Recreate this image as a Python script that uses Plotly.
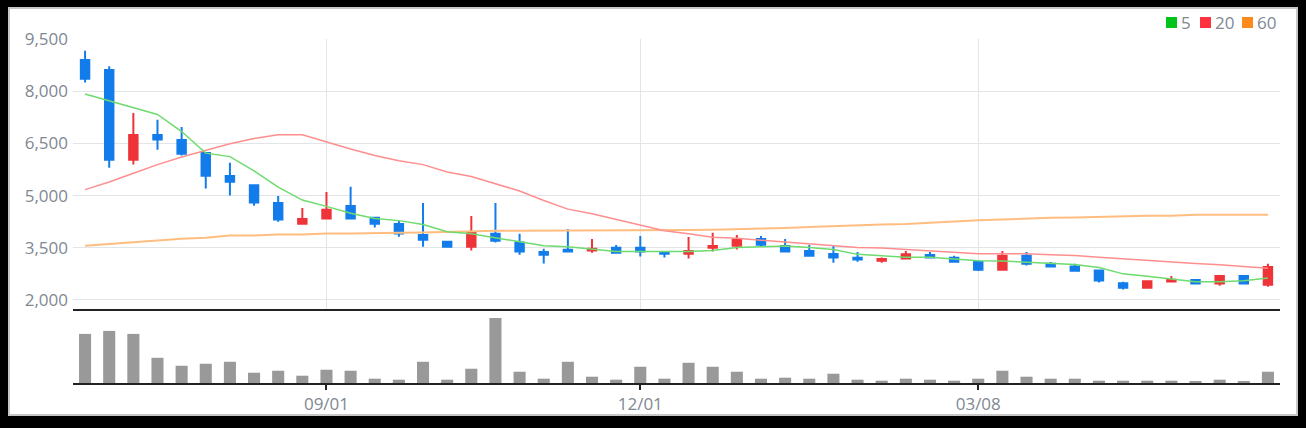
import pandas as pd
import plotly.graph_objects as go
from plotly.subplots import make_subplots

# weekly candles, one per friday
dates = pd.date_range("2023-06-23", periods=50, freq="7D")

opens = [8900, 8610, 6030, 6740, 6600, 6220, 5560, 5300, 4790, 4190,
         4340, 4700, 4360, 4180, 3870, 3670, 3530, 3900, 3650, 3380,
         3440, 3420, 3500, 3500, 3380, 3330, 3500, 3560, 3750, 3550,
         3410, 3320, 3210, 3130, 3190, 3290, 3210, 3090, 2870, 3270,
         3040, 2960, 2850, 2480, 2350, 2530, 2570, 2470, 2690, 2440]
highs = [9160, 8720, 7370, 7180, 6970, 6220, 5940, 5300, 4990, 4640,
         5100, 5250, 4390, 4280, 4790, 3680, 4410, 4790, 3900, 3470,
         4040, 3750, 3580, 3840, 3410, 3810, 3930, 3870, 3840, 3750,
         3580, 3550, 3380, 3220, 3410, 3380, 3270, 3150, 3410, 3380,
         3090, 3040, 2850, 2520, 2540, 2690, 2600, 2720, 2690, 3040]
lows = [8250, 5800, 5890, 6320, 6150, 5200, 5000, 4710, 4250, 4190,
        4340, 4310, 4080, 3820, 3530, 3500, 3420, 3650, 3300, 3050,
        3390, 3360, 3360, 3250, 3220, 3190, 3390, 3450, 3530, 3390,
        3270, 3070, 3100, 3070, 3190, 3220, 3070, 2830, 2870, 2990,
        2930, 2840, 2500, 2300, 2350, 2500, 2470, 2410, 2470, 2380]
closes = [8360, 6030, 6740, 6610, 6200, 5570, 5400, 4800, 4310, 4330,
          4590, 4340, 4190, 3910, 3730, 3530, 3930, 3700, 3390, 3300,
          3390, 3470, 3360, 3390, 3330, 3410, 3550, 3720, 3590, 3390,
          3270, 3220, 3160, 3180, 3310, 3220, 3100, 2870, 3270, 3040,
          2960, 2840, 2560, 2350, 2540, 2580, 2470, 2690, 2470, 2950]

ma5 = [7920, 7720, 7530, 7330, 6840, 6220, 6120, 5710, 5240, 4870,
       4690, 4490, 4340, 4280, 4170, 3960, 3900, 3790, 3680, 3560,
       3530, 3460, 3390, 3390, 3390, 3390, 3420, 3510, 3530, 3550,
       3510, 3450, 3310, 3260, 3230, 3230, 3180, 3130, 3120, 3080,
       3040, 3020, 2930, 2750, 2680, 2600, 2520, 2520, 2550, 2630]
ma20 = [5170, 5390, 5640, 5890, 6110, 6290, 6490, 6640, 6750, 6750,
        6540, 6340, 6150, 6000, 5890, 5680, 5550, 5350, 5130, 4860,
        4610, 4480, 4320, 4150, 3990, 3900, 3800, 3770, 3720, 3670,
        3600, 3550, 3510, 3490, 3450, 3420, 3380, 3330, 3330, 3330,
        3300, 3280, 3230, 3180, 3140, 3100, 3050, 3010, 2950, 2910]
ma60 = [3560, 3610, 3670, 3730, 3760, 3790, 3850, 3850, 3880, 3880,
        3910, 3910, 3930, 3930, 3940, 3960, 3970, 3990, 3990, 3990,
        3990, 3990, 3990, 3990, 3990, 4010, 4020, 4030, 4050, 4070,
        4100, 4130, 4140, 4170, 4180, 4220, 4250, 4290, 4310, 4340,
        4360, 4370, 4390, 4400, 4420, 4420, 4450, 4450, 4450, 4450]

volumes = [148000, 157000, 148000, 76000, 52000, 58000, 64000, 31000, 37000, 22000,
           40000, 37000, 13000, 10000, 64000, 10000, 43000, 196000, 34000, 13000,
           64000, 19000, 10000, 49000, 13000, 61000, 49000, 34000, 13000, 16000,
           13000, 28000, 10000, 7000, 13000, 10000, 7000, 13000, 37000, 19000,
           13000, 13000, 7000, 7000, 7000, 7000, 4000, 10000, 4000, 34000]

tick_dates = ["2023-09-01", "2023-12-01", "2024-03-08"]
tick_labels = ["09/01", "12/01", "03/08"]
price_ticks = [2000, 3500, 5000, 6500, 8000, 9500]
legend_names = ["5", "20", "60"]
legend_colors = ["#00c41a", "#ff3340", "#ff8a1c"]

UP = "#ee3438"
DOWN = "#127cea"
GRAY_TXT = "#808892"
FONT = "Open Sans"

# page geometry (px) -> paper coords
W, H = 1306, 428
L, R, T, B = 73, 26, 39, 45
def px(x):
    return (x - L) / (W - L - R)
def py(y):
    return (H - B - y) / (H - T - B)

fig = make_subplots(rows=2, cols=1, shared_xaxes=True, vertical_spacing=0,
                    row_heights=[1 - py(309), py(309)])

fig.add_trace(go.Candlestick(x=dates, open=opens, high=highs, low=lows, close=closes,
                             increasing=dict(line=dict(color=UP, width=2), fillcolor=UP),
                             decreasing=dict(line=dict(color=DOWN, width=2), fillcolor=DOWN),
                             whiskerwidth=0, showlegend=False, name="price"), row=1, col=1)
fig.add_trace(go.Scatter(x=dates, y=ma60, mode="lines", line=dict(color="#ffbd80", width=2),
                         showlegend=False, name="60"), row=1, col=1)
fig.add_trace(go.Scatter(x=dates, y=ma20, mode="lines", line=dict(color="#ff8e8e", width=1.5),
                         showlegend=False, name="20"), row=1, col=1)
fig.add_trace(go.Scatter(x=dates, y=ma5, mode="lines", line=dict(color="#6ddb6d", width=1.5),
                         showlegend=False, name="5"), row=1, col=1)

fig.add_trace(go.Bar(x=dates, y=volumes, marker=dict(color="#999999", line=dict(width=0)),
                     showlegend=False, name="volume"), row=2, col=1)

x_range = [dates[0] - pd.Timedelta(days=3.5), dates[-1] + pd.Timedelta(days=3.5)]

fig.update_xaxes(range=x_range, tickvals=tick_dates, ticktext=tick_labels,
                 rangeslider_visible=False, showline=True, linecolor="#222222", linewidth=2,
                 zeroline=False)
fig.update_xaxes(showgrid=True, gridcolor="#e2e5e8", gridwidth=1, showticklabels=False,
                 ticks="", row=1, col=1)
fig.update_xaxes(showgrid=False, ticks="outside", ticklen=5, tickwidth=2, tickcolor="#222222",
                 tickfont=dict(family=FONT, size=17, color=GRAY_TXT), row=2, col=1)

fig.update_yaxes(range=[1740, 9500], tickvals=price_ticks, tickformat=",",
                 gridcolor="#e2e5e8", gridwidth=1, zeroline=False, showline=False,
                 tickfont=dict(family=FONT, size=17, color=GRAY_TXT), ticklabelstandoff=4,
                 row=1, col=1)
fig.update_yaxes(range=[0, 223000], visible=False, showgrid=False, row=2, col=1)

# white card on black background
fig.add_shape(type="rect", xref="paper", yref="paper", layer="below",
              x0=px(9), x1=px(1297), y0=py(415), y1=py(8),
              fillcolor="white", line=dict(color="#c8c8c8", width=2))

# legend: colour squares + labels, right aligned
sq_left = [1166, 1200, 1242]
for name, color, x0 in zip(legend_names, legend_colors, sq_left):
    fig.add_shape(type="rect", xref="paper", yref="paper",
                  x0=px(x0), x1=px(x0 + 11), y0=py(28), y1=py(17),
                  fillcolor=color, line=dict(width=0))
    fig.add_annotation(xref="paper", yref="paper", x=px(x0 + 14), y=py(22.5),
                       xanchor="left", yanchor="middle", text=name, showarrow=False,
                       borderpad=0, font=dict(family=FONT, size=17, color=GRAY_TXT))

fig.update_layout(width=W, height=H, margin=dict(l=L, r=R, t=T, b=B),
                  paper_bgcolor="black", plot_bgcolor="white",
                  boxgap=0.5, bargap=0.5, showlegend=False, hovermode=False,
                  font=dict(family=FONT, color=GRAY_TXT))

# page body has a default 8px margin; drop it so the figure sits at 0,0
fig.write_html("out.html", config={"displayModeBar": False},
               post_script="document.body.style.margin='0';document.body.style.background='#000';")
